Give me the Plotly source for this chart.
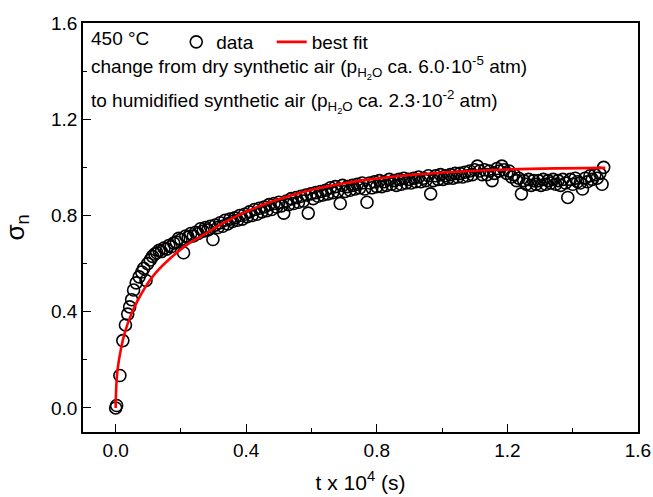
import plotly.graph_objects as go

# measured data (t in 10^4 s, normalised conductivity)
t_data = [
    0.000, 0.003, 0.013, 0.022, 0.030, 0.037, 0.043, 0.049, 0.055, 0.063, 0.072, 0.080, 0.086, 0.093, 0.098,
    0.106, 0.113, 0.120, 0.126, 0.133, 0.140, 0.148, 0.156, 0.163, 0.170, 0.178, 0.186, 0.193, 0.200, 0.208,
    0.215, 0.222, 0.230, 0.238, 0.245, 0.253, 0.260, 0.268, 0.275, 0.283, 0.290, 0.298, 0.305,
    0.313, 0.320, 0.328, 0.335, 0.343, 0.350, 0.358, 0.365, 0.373, 0.380, 0.388, 0.395, 0.403, 0.410, 0.418,
    0.425, 0.433, 0.440, 0.448, 0.455, 0.463, 0.470, 0.478, 0.485, 0.493, 0.500,
    0.508, 0.515, 0.523, 0.530, 0.538, 0.545, 0.553, 0.560, 0.568, 0.575, 0.583, 0.590, 0.598, 0.605, 0.613,
    0.620, 0.628, 0.635, 0.643, 0.650, 0.658, 0.665, 0.673, 0.680, 0.688, 0.695,
    0.703, 0.710, 0.718, 0.725, 0.733, 0.740, 0.748, 0.755, 0.763, 0.770, 0.778, 0.785, 0.793, 0.800, 0.808,
    0.815, 0.823, 0.830, 0.838, 0.845,
    0.853, 0.860, 0.868, 0.875, 0.883, 0.890, 0.898, 0.905, 0.913, 0.920, 0.928, 0.935, 0.943, 0.950, 0.958,
    0.965, 0.973, 0.980, 0.988, 0.995, 1.003, 1.010, 1.018, 1.025, 1.033, 1.040, 1.048,
    1.055, 1.063, 1.070, 1.078, 1.085, 1.093, 1.100, 1.108, 1.115, 1.123, 1.130, 1.138, 1.145, 1.153, 1.160,
    1.168, 1.175, 1.183, 1.190, 1.198,
    1.205, 1.213, 1.220, 1.228, 1.235, 1.243, 1.250, 1.258, 1.265, 1.273, 1.280, 1.288, 1.295, 1.303, 1.310,
    1.318, 1.325, 1.333, 1.340, 1.348, 1.355, 1.363, 1.370, 1.378, 1.385, 1.393, 1.400, 1.408, 1.415, 1.423,
    1.430, 1.438, 1.445, 1.453, 1.460, 1.468, 1.475, 1.483, 1.490, 1.495,
]
sigma_data = [
    0.000, 0.010, 0.135, 0.280, 0.345, 0.390, 0.420, 0.450, 0.490, 0.520, 0.545, 0.565, 0.580, 0.530, 0.600,
    0.615, 0.630, 0.640, 0.645, 0.655, 0.650, 0.665, 0.660, 0.675, 0.670, 0.685, 0.690, 0.705, 0.700, 0.645,
    0.715, 0.710, 0.725, 0.715, 0.730, 0.725, 0.745, 0.735, 0.750, 0.740, 0.755, 0.700, 0.760,
    0.750, 0.770, 0.755, 0.780, 0.765, 0.785, 0.775, 0.790, 0.780, 0.800, 0.785, 0.805, 0.795, 0.815, 0.800,
    0.825, 0.805, 0.830, 0.815, 0.835, 0.820, 0.845, 0.825, 0.850, 0.835, 0.855,
    0.840, 0.810, 0.860, 0.845, 0.870, 0.850, 0.875, 0.855, 0.880, 0.860, 0.885, 0.810, 0.890, 0.870, 0.895,
    0.880, 0.900, 0.885, 0.905, 0.890, 0.915, 0.895, 0.920, 0.900, 0.850, 0.925,
    0.900, 0.920, 0.905, 0.925, 0.910, 0.930, 0.915, 0.935, 0.910, 0.855, 0.935, 0.915, 0.940, 0.920, 0.945,
    0.920, 0.940, 0.925, 0.950, 0.930,
    0.945, 0.925, 0.950, 0.930, 0.955, 0.935, 0.950, 0.935, 0.955, 0.940, 0.960, 0.940, 0.955, 0.945, 0.965,
    0.890, 0.945, 0.965, 0.950, 0.970, 0.950, 0.965, 0.955, 0.970, 0.955, 0.975, 0.960,
    0.975, 0.960, 0.980, 0.965, 0.985, 0.970, 0.990, 1.005, 0.985, 0.970, 0.990, 0.970, 0.985, 0.945, 0.975,
    0.995, 0.985, 1.005, 0.990, 0.975,
    0.985, 0.960, 0.970, 0.945, 0.955, 0.890, 0.945, 0.930, 0.950, 0.925, 0.945, 0.930, 0.945, 0.925, 0.950,
    0.930, 0.945, 0.935, 0.950, 0.930, 0.945, 0.925, 0.950, 0.935, 0.875, 0.950, 0.930, 0.955, 0.940, 0.935,
    0.910, 0.955, 0.940, 0.965, 0.950, 0.970, 0.955, 0.975, 0.930, 1.000,
]

# fitted curve
t_fit = [0.0, 0.002, 0.006, 0.017, 0.028, 0.048, 0.067, 0.09, 0.12, 0.17, 0.22, 0.27, 0.325,
         0.39, 0.49, 0.595, 0.695, 0.78, 0.9, 1.05, 1.2, 1.35, 1.5]
sigma_fit = [0.0, 0.09, 0.16, 0.25, 0.313, 0.39, 0.445, 0.5, 0.557, 0.625, 0.68, 0.72, 0.765,
             0.81, 0.863, 0.905, 0.933, 0.95, 0.968, 0.982, 0.991, 0.996, 0.998]

FONT = "Arial, Liberation Sans, sans-serif"

fig = go.Figure()
fig.add_trace(go.Scatter(
    x=t_data, y=sigma_data, mode="markers", name="data", legend="legend",
    marker=dict(symbol="circle-open", size=12, color="black", line=dict(width=1.6, color="black")),
))
fig.add_trace(go.Scatter(
    x=t_fit, y=sigma_fit, mode="lines", name="best fit", line_shape="spline", legend="legend2",
    line=dict(color="#ff0000", width=2.6),
))

axis_common = dict(
    showline=True, linecolor="black", linewidth=1.5, mirror=True,
    ticks="inside", ticklen=8, tickwidth=1.3, tickcolor="black",
    tick0=0, dtick=0.4, tickformat=".1f",
    minor=dict(ticks="inside", ticklen=4, tickwidth=1.3, tickcolor="black", dtick=0.2, tick0=0),
    showgrid=False, zeroline=False, automargin=False,
    tickfont=dict(family=FONT, size=19, color="black"),
)

fig.update_xaxes(
    range=[-0.1, 1.6001],
    title=dict(text="t x 10<sup>4</sup> (s)", font=dict(family=FONT, size=21, color="black"), standoff=16),
    **axis_common,
)
fig.update_yaxes(
    range=[-0.1, 1.6001],
    title=dict(text="σ<sub>n</sub>", font=dict(family=FONT, size=26, color="black"), standoff=20),
    **axis_common,
)

note_font = dict(family=FONT, size=19, color="black")
fig.add_annotation(
    xref="paper", yref="paper", x=0.01, y=0.962, xanchor="left", yanchor="middle",
    text="450 °C", showarrow=False, font=note_font,
)
fig.add_annotation(
    xref="paper", yref="paper", x=0.01, y=0.89, xanchor="left", yanchor="middle",
    text="change from dry synthetic air (p<sub>H<sub>2</sub>O</sub> ca. 6.0·10<sup>-5</sup> atm)",
    showarrow=False, font=note_font,
)
fig.add_annotation(
    xref="paper", yref="paper", x=0.01, y=0.808, xanchor="left", yanchor="middle",
    text="to humidified synthetic air (p<sub>H<sub>2</sub>O</sub> ca. 2.3·10<sup>-2</sup> atm)",
    showarrow=False, font=note_font,
)

legend_common = dict(
    orientation="h", y=1.0, xanchor="left", yanchor="top",
    bgcolor="rgba(0,0,0,0)", font=note_font, itemwidth=30,
)

fig.update_layout(
    width=653, height=497,
    margin=dict(l=83, r=15, t=23, b=65),
    plot_bgcolor="white", paper_bgcolor="white",
    font=dict(family=FONT, color="black"),
    showlegend=True,
    legend=dict(x=0.168, **legend_common),
    legend2=dict(x=0.34, **legend_common),
)

# drop the default 8px body margin so the figure fills the window exactly
fig.write_html(
    "out.html",
    config={"displayModeBar": False},
    post_script="document.body.style.margin='0';document.body.style.overflow='hidden';",
)
